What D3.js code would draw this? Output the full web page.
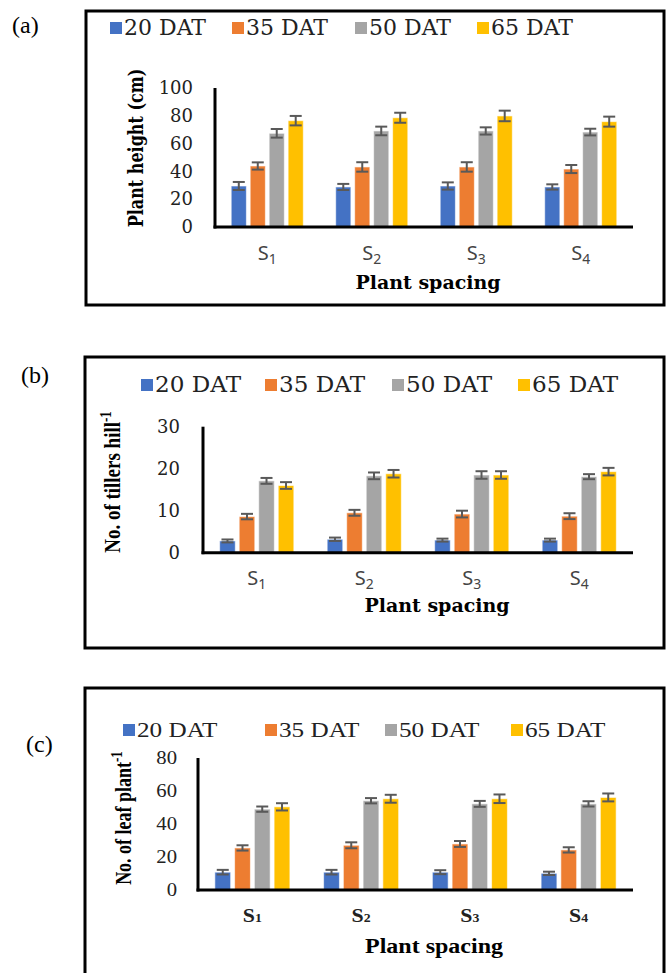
<!DOCTYPE html>
<html><head><meta charset="utf-8">
<script src="https://cdn.jsdelivr.net/npm/d3@7"></script>
<style>html,body{margin:0;padding:0;background:#fff;}svg{display:block;}</style>
</head><body>
<script>
// ---- data ----
const categories = ["S1", "S2", "S3", "S4"];
const seriesNames = ["20 DAT", "35 DAT", "50 DAT", "65 DAT"];
const seriesColors = ["#4472C4", "#ED7D31", "#A5A5A5", "#FFC000"];

const heightValues = [[29.5, 28.8, 29.5, 28.8],[43.9, 43.2, 43.2, 41.7],[67.4, 69.1, 69.1, 68.3],[76.5, 78.6, 79.9, 75.8]];
const heightErrors = [[2.9, 2.2, 2.6, 1.9],[2.6, 3.4, 3.4, 2.9],[3.1, 3.1, 2.6, 2.4],[3.4, 3.6, 3.8, 3.6]];
const heightTicks = [0, 20, 40, 60, 80, 100];

const tillerValues = [[2.8, 3.2, 3.0, 3.0],[8.6, 9.5, 9.2, 8.7],[17.1, 18.3, 18.5, 18.1],[16.0, 18.8, 18.5, 19.3]];
const tillerErrors = [[0.35, 0.4, 0.35, 0.35],[0.65, 0.7, 0.8, 0.7],[0.7, 0.8, 0.9, 0.6],[0.8, 0.9, 0.9, 0.9]];
const tillerTicks = [0, 10, 20, 30];

const leafValues = [[10.8, 10.8, 10.8, 10.1],[25.5, 27.1, 27.9, 24.3],[49.0, 54.1, 52.2, 52.2],[50.4, 55.3, 55.3, 56.1]];
const leafErrors = [[1.4, 1.4, 1.2, 1.0],[1.6, 1.8, 1.8, 1.6],[1.6, 1.6, 1.8, 1.6],[2.2, 2.4, 2.6, 2.4]];
const leafTicks = [0, 20, 40, 60, 80];

const W = 667, H = 973;
const svg = d3.select("body").append("svg").attr("width", W).attr("height", H);

function txt(g, s, x, y, o) {
  const t = g.append("text")
    .attr("transform", `translate(${x},${y}) scale(${o.sx||1},1)` + (o.rot ? " rotate(-90)" : ""))
    .attr("font-family", o.font).attr("font-size", o.size)
    .attr("font-weight", o.weight || "normal")
    .attr("text-anchor", o.anchor || "start").attr("fill", o.fill || "#000");
  if (o.sup) { t.append("tspan").text(s); t.append("tspan").attr("font-size", o.supSize).attr("dy", o.supDy).text(o.sup); }
  else t.text(s);
  return t;
}

function panel(cfg) {
  const g = svg.append("g");
  g.append("rect").attr("x", cfg.frame[0]).attr("y", cfg.frame[1])
    .attr("width", cfg.frame[2] - cfg.frame[0]).attr("height", cfg.frame[3] - cfg.frame[1])
    .attr("fill", "none").attr("stroke", "#000").attr("stroke-width", 3);
  txt(g, cfg.tag, cfg.tagPos[0], cfg.tagPos[1], {font: "Liberation Serif", size: 24});
  seriesNames.forEach((s, i) => {
    const lx = cfg.legendX[i];
    g.append("rect").attr("x", lx).attr("y", cfg.legendY - cfg.legSq - cfg.legSqOff)
      .attr("width", cfg.legSq).attr("height", cfg.legSq).attr("fill", seriesColors[i]);
    txt(g, s, lx + cfg.legSq + 2, cfg.legendY, {font: cfg.legFont, size: cfg.legSize, sx: cfg.legSx, fill: "#222"});
  });
  const [xa, xb] = cfg.xRange, [y0, yTop] = cfg.yRange;
  const x0 = d3.scaleBand().domain(categories).range([xa, xb]).paddingInner(0.31).paddingOuter(0.155);
  const x1 = d3.scaleBand().domain(seriesNames).range([0, x0.bandwidth()]).paddingInner(0.2);
  const y = d3.scaleLinear().domain([0, cfg.yMax]).range([y0, yTop]);

  seriesNames.forEach((s, si) => {
    categories.forEach((c, ci) => {
      const v = cfg.values[si][ci], e = cfg.errors[si][ci];
      const bx = x0(c) + x1(s);
      g.append("rect").attr("x", bx).attr("y", y(v)).attr("width", x1.bandwidth()).attr("height", y(0) - y(v))
        .attr("fill", seriesColors[si]).attr("stroke", "#fff").attr("stroke-opacity", 0.6).attr("stroke-width", 1);
      const cx = bx + x1.bandwidth() / 2, hw = 6;
      const eg = g.append("g").attr("stroke", "#595959").attr("stroke-width", 2);
      eg.append("line").attr("x1", cx).attr("x2", cx).attr("y1", y(v - e)).attr("y2", y(v + e));
      eg.append("line").attr("x1", cx - hw).attr("x2", cx + hw).attr("y1", y(v - e)).attr("y2", y(v - e));
      eg.append("line").attr("x1", cx - hw).attr("x2", cx + hw).attr("y1", y(v + e)).attr("y2", y(v + e));
    });
  });
  const yAxis = d3.axisLeft(y).tickValues(cfg.ticks).tickSize(0).tickPadding(0);
  const ya = g.append("g").attr("transform", `translate(${cfg.tickRight},0)`).call(yAxis);
  ya.select(".domain").remove();
  ya.selectAll("text").attr("font-family", cfg.tickFont).attr("font-size", cfg.tickSize).attr("fill", "#222")
    .attr("transform", `scale(${cfg.tickSx||1},1)`);
  g.append("line").attr("x1", xa).attr("x2", xa).attr("y1", yTop).attr("y2", y0 + 1.5).attr("stroke", "#000").attr("stroke-width", 3);
  g.append("line").attr("x1", xa - 1.5).attr("x2", xb).attr("y1", y0).attr("y2", y0).attr("stroke", "#000").attr("stroke-width", 3);
  categories.forEach((c, ci) => {
    const cx = x0(c) + x0.bandwidth() / 2;
    const t = g.append("text").attr("transform", `translate(${cx},${cfg.catY}) scale(${cfg.catSx||1},1)`).attr("text-anchor", "middle")
      .attr("font-family", cfg.catFont).attr("font-size", cfg.catSize).attr("font-weight", cfg.catWeight || "normal").attr("fill", cfg.catFill || "#444");
    t.append("tspan").text(c[0]);
    t.append("tspan").attr("font-size", cfg.catSubSize).attr("dy", cfg.catSubDy).text(c.slice(1));
  });
  txt(g, "Plant spacing", cfg.xTitle[0], cfg.xTitle[1], {font: cfg.xTitleFont, size: cfg.xTitleSize, weight: "bold", anchor: "middle", sx: cfg.xTitleSx});
  txt(g, cfg.yTitle, cfg.yTitlePos[0], cfg.yTitlePos[1], {font: cfg.yTitleFont, size: cfg.yTitleSize, weight: "bold", anchor: "middle", rot: true, sx: cfg.yTitleSx, sup: cfg.yTitleSup, supSize: cfg.yTitleSupSize, supDy: -7});
}

panel({
  tag: "(a)", tagPos: [12, 33], frame: [86, 11, 664, 305],
  legendX: [110, 232, 355, 477], legendY: 35, legSq: 12, legSqOff: 1, legFont: "DejaVu Serif", legSize: 22, legSx: 1,
  xRange: [215, 633], yRange: [227, 88], yMax: 100, values: heightValues, errors: heightErrors, ticks: heightTicks,
  tickRight: 193, tickFont: "DejaVu Serif", tickSize: 18,
  catY: 260, catFont: "Noto Sans", catSize: 20, catSubSize: 14, catSubDy: 4,
  xTitle: [428, 289], xTitleFont: "DejaVu Serif", xTitleSize: 19,
  yTitle: "Plant height (cm)", yTitlePos: [143, 148], yTitleFont: "DejaVu Serif", yTitleSize: 16, yTitleSx: 1.25
});
panel({
  tag: "(b)", tagPos: [21, 383], frame: [85, 357, 664, 648],
  legendX: [141, 265, 392, 518], legendY: 392, legSq: 12, legSqOff: 1, legFont: "DejaVu Serif", legSize: 22, legSx: 1.05,
  xRange: [203, 633], yRange: [552.7, 426.7], yMax: 30, values: tillerValues, errors: tillerErrors, ticks: tillerTicks,
  tickRight: 180, tickFont: "DejaVu Serif", tickSize: 18,
  catY: 585, catFont: "Noto Sans", catSize: 20, catSubSize: 14, catSubDy: 4,
  xTitle: [437, 612], xTitleFont: "DejaVu Serif", xTitleSize: 19,
  yTitle: "No. of tillers hill", yTitleSup: "-1", yTitleSupSize: 13, yTitlePos: [120, 482], yTitleFont: "Liberation Serif", yTitleSize: 19, yTitleSx: 1.25
});
panel({
  tag: "(c)", tagPos: [26, 752], frame: [85, 688, 664, 990],
  legendX: [123, 265, 385, 511], legendY: 737, legSq: 12, legSqOff: 1, legFont: "Liberation Serif", legSize: 21, legSx: 1.2,
  xRange: [198, 633], yRange: [890, 758], yMax: 80, values: leafValues, errors: leafErrors, ticks: leafTicks,
  tickRight: 177, tickFont: "Liberation Serif", tickSize: 18, tickSx: 1.15,
  catY: 922, catFont: "Liberation Serif", catSize: 19, catSx: 1.15, catWeight: "bold", catFill: "#222", catSubSize: 12, catSubDy: 0,
  xTitle: [434, 953], xTitleFont: "Liberation Serif", xTitleSize: 20, xTitleSx: 1.2,
  yTitle: "No. of leaf plant", yTitleSup: "-1", yTitleSupSize: 13, yTitlePos: [131, 818], yTitleFont: "Liberation Serif", yTitleSize: 18, yTitleSx: 1.25
});
</script>
</body></html>
